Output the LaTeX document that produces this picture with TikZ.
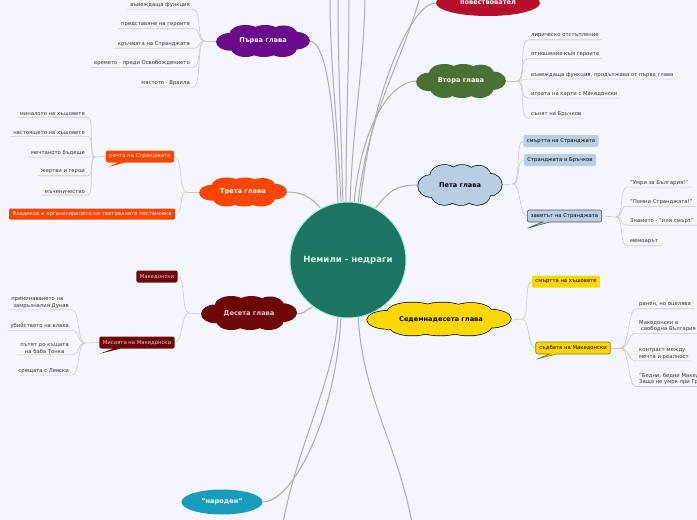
\documentclass[tikz,border=0pt]{standalone}
\usepackage{fontspec}
\setmainfont{DejaVu Sans}
\usetikzlibrary{shapes.callouts,shapes.geometric}
\pgfdeclarelayer{bg}
\pgfsetlayers{bg,main}
\definecolor{bgc}{HTML}{F3F6FE}
\definecolor{cfill}{HTML}{1B7561}
\definecolor{cbord}{HTML}{A8F0DC}
\definecolor{ctext}{HTML}{D5F7EC}
\definecolor{purp}{HTML}{6A0B8C}
\definecolor{crim}{HTML}{B70D2C}
\definecolor{olive}{HTML}{4A7033}
\definecolor{orng}{HTML}{FF4500}
\definecolor{lblue}{HTML}{B9CDE5}
\definecolor{maroon}{HTML}{6E0808}
\definecolor{pinkt}{HTML}{F0C6C6}
\definecolor{yell}{HTML}{FFD700}
\definecolor{ydark}{HTML}{8A7A00}
\definecolor{teal2}{HTML}{189CBD}
\definecolor{txt}{HTML}{333333}
\definecolor{dgray}{HTML}{555555}
\definecolor{mainline}{HTML}{ADADAD}
\definecolor{subline}{HTML}{CACACA}
\tikzset{
  leaf/.style={font=\fontsize{5.3}{6.4}\selectfont, text=txt, inner xsep=3pt, inner ysep=1.5pt},
  conn/.style={draw=mainline, line width=1pt},
  sub/.style={draw=subline, line width=0.6pt},
  chap/.style={rectangle, font=\fontsize{6.6}{8}\selectfont\bfseries, inner sep=0pt},
  oval/.style={ellipse, font=\fontsize{6.6}{8}\selectfont\bfseries, text=white, inner sep=0pt},
  tag/.style={rounded corners=2pt, font=\fontsize{5.3}{6.4}\selectfont, inner xsep=3.5pt, inner ysep=2pt, minimum height=12pt},
}
% cloud blob: x, y, width, height, fill colour, outline options
\newcommand\mmcloud[6]{%
  \foreach \a/\b/\c/\d in {0/0/0.75/0.7, -0.72/0.05/0.3/0.55, 0.72/-0.02/0.3/0.55,
      -0.38/-0.45/0.35/0.55, 0.05/-0.5/0.33/0.5, 0.45/-0.42/0.3/0.55,
      -0.38/0.45/0.32/0.55, 0.02/0.52/0.33/0.48, 0.42/0.45/0.32/0.55}{
    \draw[#6] ({#1+\a*#3/2}, {#2+\b*#4/2}) ellipse [x radius={\c*#3*0.5pt}, y radius={\d*#4*0.5pt}];
  }
  \foreach \a/\b/\c/\d in {0/0/0.75/0.7, -0.72/0.05/0.3/0.55, 0.72/-0.02/0.3/0.55,
      -0.38/-0.45/0.35/0.55, 0.05/-0.5/0.33/0.5, 0.45/-0.42/0.3/0.55,
      -0.38/0.45/0.32/0.55, 0.02/0.52/0.33/0.48, 0.42/0.45/0.32/0.55}{
    \fill[#5] ({#1+\a*#3/2}, {#2+\b*#4/2}) ellipse [x radius={\c*#3*0.5pt}, y radius={\d*#4*0.5pt}];
  }%
}
\begin{document}
\begin{tikzpicture}[x=1pt,y=-1pt]
\begin{pgfonlayer}{bg}
\fill[bgc] (0,0) rectangle (697,520);
\end{pgfonlayer}
\useasboundingbox (0,0) rectangle (697,520);

% centre
\node[circle, fill=cfill, draw=cbord, line width=1pt, minimum size=116pt, text=ctext,
  font=\fontsize{8.6}{10}\selectfont\bfseries] (c) at (348,260) {Немили - недраги};

% chapter clouds
\mmcloud{263}{41}{92}{32}{purp}{draw=none}
\mmcloud{461}{81}{88}{34}{olive}{draw=none}
\mmcloud{243}{192}{86}{29}{orng}{draw=none}
\mmcloud{460}{185}{82}{40}{lblue}{draw=black, line width=1.4pt}
\mmcloud{249}{313}{94}{34}{maroon}{draw=none}
\mmcloud{439}{319}{141}{33}{yell}{draw=black, line width=1.4pt}

\node[chap, minimum width=92pt, minimum height=32pt, text=white] (p1) at (263,41) {Първа глава};
\node[oval, fill=crim, minimum width=104pt, minimum height=26pt] (pov) at (488,3) {повествовател};
\node[chap, minimum width=88pt, minimum height=34pt, text=white] (p2) at (461,81) {Втора глава};
\node[chap, minimum width=86pt, minimum height=29pt, text=white] (p3) at (243,192) {Трета глава};
\node[chap, minimum width=82pt, minimum height=40pt] (p5) at (460,185) {Пета глава};
\node[chap, minimum width=94pt, minimum height=34pt, text=pinkt] (p10) at (249,314) {Десета глава};
\node[chap, minimum width=141pt, minimum height=33pt] (p17) at (441,320) {Седемнадесета глава};
\node[oval, fill=teal2, minimum width=81pt, minimum height=25pt] (nar) at (222,502) {"народен"};

% free ends
\coordinate (t1) at (330,-3);
\coordinate (t2) at (338,-3);
\coordinate (t3) at (349,-3);
\coordinate (t4) at (365,-3);
\coordinate (t5) at (420,-3);
\coordinate (b1) at (283,523);
\coordinate (b2) at (412,523);

% branch points
\coordinate (br1) at (205,41);
\coordinate (br2) at (517,81);
\coordinate (br3) at (187,192);
\coordinate (br3b) at (95,157);
\coordinate (br5) at (513,184);
\coordinate (br5b) at (616,217);
\coordinate (br10) at (189,313);
\coordinate (br10b) at (85,343);
\coordinate (br17) at (522,319);
\coordinate (br17b) at (621,348);

% Първа глава leaves
\node[leaf, anchor=east] (a1) at (193,5) {въвеждаща функция};
\node[leaf, anchor=east] (a2) at (193,25) {представяне на героите};
\node[leaf, anchor=east] (a3) at (193,44) {кръчмата на Странджата};
\node[leaf, anchor=east] (a4) at (193,63) {времето - преди Освобождението};
\node[leaf, anchor=east] (a5) at (193,83) {мястото - Враила};

% Втора глава leaves
\node[leaf, anchor=west] (v1) at (528,36) {лирическо отстъпление};
\node[leaf, anchor=west] (v2) at (528,55) {отношение към героите};
\node[leaf, anchor=west] (v3) at (528,75) {въвеждаща функция, продължава от първа глава};
\node[leaf, anchor=west] (v4) at (528,94) {играта на карти с Македонски};
\node[leaf, anchor=west] (v5) at (528,114) {сънят на Бръчков};

% Трета глава
\node[tag, rectangle callout, fill=orng, text=white, callout absolute pointer={(108,167)}] (rech) at (140,156.5) {речта на Странджата};
\node[tag, fill=orng, text=white, rounded corners=1pt, minimum height=11pt] (vlad) at (92,214) {Владиков и организирането на театралната постановка};
\node[leaf, anchor=east] (r1) at (88,114) {миналото на хъшовете};
\node[leaf, anchor=east] (r2) at (88,133) {настоящето на хъшовете};
\node[leaf, anchor=east] (r3) at (88,153) {мечтаното бъдеще};
\node[leaf, anchor=east] (r4) at (88,172) {жертви и герои};
\node[leaf, anchor=east] (r5) at (88,192) {мъченичество};

% Пета глава
\node[tag, fill=lblue] (s1) at (561,141) {смъртта на Странджата};
\node[tag, fill=lblue] (s2) at (560,160) {Странджата и Бръчков};
\node[tag, rectangle callout, fill=lblue, draw=dgray, line width=0.6pt, callout absolute pointer={(528,228)}] (zav) at (564.5,216) {заветът на Странджата};
\node[leaf, anchor=west] (z1) at (627,183) {"Умри за България!"};
\node[leaf, anchor=west] (z2) at (627,202) {"Помни Странджата!"};
\node[leaf, anchor=west] (z3) at (627,221) {Знамето - "или смърт"};
\node[leaf, anchor=west] (z4) at (627,242) {мемоарът};

% Десета глава
\node[tag, fill=maroon, text=pinkt] (mk) at (157,276.5) {Македонски};
\node[tag, rectangle callout, fill=maroon, text=pinkt, callout absolute pointer={(99,354)}] (mis) at (137,342.5) {Мисията на Македонски};
\node[leaf, anchor=east, align=left] (d1) at (72,303) {преминаването на\\\hspace*{2pt}замръзналия Дунав};
\node[leaf, anchor=east] (d2) at (72,326) {убийството на влаха};
\node[leaf, anchor=east, align=center] (d3) at (72,348.5) {пътят до къщата\\на баба Тонка};
\node[leaf, anchor=east] (d4) at (72,371) {срещата с Левски};

% Седемнадесета глава
\node[tag, fill=yell] (sx) at (566,281.5) {смъртта на хъшовете};
\node[tag, rectangle callout, fill=yell, draw=ydark, line width=0.6pt, callout absolute pointer={(537,359)}] (sud) at (573,348) {съдбата на Македонски};
\node[leaf, anchor=west] (m1) at (636,305) {ранен, но оцелява};
\node[leaf, anchor=west, align=left] (m2) at (636,326) {Македонски в\\\hspace*{2pt}свободна България};
\node[leaf, anchor=west, align=left] (m3) at (636,354) {контраст между\\мечта и реалност};
\node[leaf, anchor=west, align=left] (m4) at (636,379) {"Бедни, бедни Македонски!\\Защо не умря при Гредетин?"};

\begin{pgfonlayer}{bg}
% main connectors
\draw[conn] (c.100) .. controls +(-3,-90) and +(18,0) .. (p1.east);
\draw[conn] (c.97) .. controls +(-3,-80) and +(0,70) .. (t1);
\draw[conn] (c.95) .. controls +(-2,-80) and +(0,70) .. (t2);
\draw[conn] (c.92) .. controls +(0,-80) and +(0,70) .. (t3);
\draw[conn] (c.88) .. controls +(3,-80) and +(-1,70) .. (t4);
\draw[conn] (c.80) .. controls +(10,-90) and +(-20,70) .. (t5);
\draw[conn] (c.78) .. controls +(12,-110) and +(-25,0) .. (pov.west);
\draw[conn] (c.84) .. controls +(8,-80) and +(-25,0) .. (p2.west);
\draw[conn] (c.62) .. controls +(15,-20) and +(-20,0) .. (p5.west);
\draw[conn] (c.118) .. controls +(-10,-12) and +(15,0) .. (p3.east);
\draw[conn] (c.233) .. controls +(-8,4) and +(8,0) .. (p10.east);
\draw[conn] (c.-100) .. controls +(-3,60) and +(15,-80) .. (b1);
\draw[conn] (c.-97) .. controls +(-5,100) and +(30,0) .. (nar.east);
\draw[conn] (c.-80) .. controls +(5,80) and +(-15,-80) .. (b2);

% sub connectors
\draw[sub] (p1.west) -- (br1);
\foreach \n in {a1,a2,a3,a4,a5}
  \draw[sub] (br1) .. controls +(-9,0) and +(9,0) .. (\n.south east) -- (\n.south west);
\draw[sub] (p2.east) -- (br2);
\foreach \n in {v1,v2,v3,v4,v5}
  \draw[sub] (br2) .. controls +(9,0) and +(-9,0) .. (\n.south west) -- (\n.south east);
\draw[sub] (p3.west) -- (br3);
\draw[sub] (br3) .. controls +(-9,0) and +(9,0) .. (rech.east);
\draw[sub] (br3) .. controls +(-9,0) and +(9,0) .. (vlad.east);
\draw[sub] (rech.west) -- (br3b);
\foreach \n in {r1,r2,r3,r4,r5}
  \draw[sub] (br3b) .. controls +(-6,0) and +(6,0) .. (\n.south east) -- (\n.south west);
\draw[sub] (p5.east) -- (br5);
\foreach \n in {s1,s2,zav}
  \draw[sub] (br5) .. controls +(8,0) and +(-8,0) .. (\n.west);
\draw[sub] (zav.east) -- (br5b);
\foreach \n in {z1,z2,z3,z4}
  \draw[sub] (br5b) .. controls +(8,0) and +(-8,0) .. (\n.south west) -- (\n.south east);
\draw[sub] (p10.west) -- (br10);
\foreach \n in {mk,mis}
  \draw[sub] (br10) .. controls +(-8,0) and +(8,0) .. (\n.east);
\draw[sub] (mis.west) -- (br10b);
\foreach \n in {d1,d2,d3,d4}
  \draw[sub] (br10b) .. controls +(-8,0) and +(8,0) .. (\n.south east) -- (\n.south west);
\draw[sub] (p17.east) -- (br17);
\foreach \n in {sx,sud}
  \draw[sub] (br17) .. controls +(8,0) and +(-8,0) .. (\n.west);
\draw[sub] (sud.east) -- (br17b);
\foreach \n in {m1,m2,m3,m4}
  \draw[sub] (br17b) .. controls +(8,0) and +(-8,0) .. (\n.south west) -- (\n.south east);
\end{pgfonlayer}
\end{tikzpicture}
\end{document}
